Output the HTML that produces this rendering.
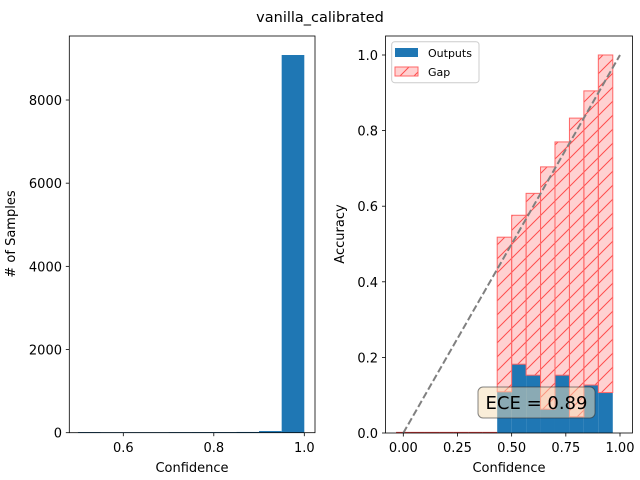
<!DOCTYPE html>
<html><head><meta charset="utf-8"><style>
body{margin:0;background:#fff}
svg{display:block;font-family:"DejaVu Sans","Liberation Sans",sans-serif}
</style></head><body>
<svg id="fig" width="640" height="480" viewBox="0 0 640 480">
<defs>
<pattern id="hatch" patternUnits="userSpaceOnUse" width="14" height="14">
<path d="M-3,17 L17,-3 M-3,3 L3,-3 M11,17 L17,11" stroke="#ff4d4d" stroke-width="1"/>
</pattern>
</defs>
<text x="320" y="22" font-size="14.5" text-anchor="middle">vanilla_calibrated</text>
<g id="left"></g>
<g id="right"></g>
</svg>
<script>
// Left histogram data
const histBinEdges = [0.5,0.55,0.6,0.65,0.7,0.75,0.8,0.85,0.9,0.95,1.0];
const histCounts = [15,12,12,12,14,15,15,18,40,9082];
const histXTicks = [0.6,0.8,1.0];
const histYTicks = [0,2000,4000,6000,8000];
// Right reliability data
const binCenters = [0,1,2,3,4,5,6,7,8,9,10,11,12,13,14].map(i=>i/15);
const accuracy = [0,0,0,0,0,0,0,0.109,0.182,0.153,0.063,0.153,0.043,0.127,0.107];
const confidence = [0,0,0,0,0,0,0,0.518,0.576,0.634,0.704,0.770,0.833,0.905,1.0];
const relXTicks = [0,0.25,0.5,0.75,1.0];
const relYTicks = [0,0.2,0.4,0.6,0.8,1.0];
const eceValue = 0.89;

const NS='http://www.w3.org/2000/svg';
function mk(parent,tag,attrs,text){const e=document.createElementNS(NS,tag);for(const k in attrs)e.setAttribute(k,attrs[k]);if(text!==undefined)e.textContent=text;parent.appendChild(e);return e;}

// Left axes
const L=document.getElementById('left');
const lx=v=>123.3+(v-0.6)*452.5;
const ly=v=>432.7-v*0.041587;
histCounts.forEach((c,i)=>{
  const x0=lx(histBinEdges[i]),x1=lx(histBinEdges[i+1]);
  const r=mk(L,'rect',{x:x0,y:ly(c),width:x1-x0,height:432.7-ly(c),fill:'#1f77b4'});
  
  
});
histXTicks.forEach(t=>{
  const x=lx(t);
  mk(L,'line',{x1:x,x2:x,y1:432.7,y2:436.2,stroke:'#000','stroke-width':0.8});
  const tx=mk(L,'text',{x:x,y:452,'font-size':13,'text-anchor':'middle'},t.toFixed(1));
  
  
});
histYTicks.forEach(t=>{
  const y=ly(t);
  mk(L,'line',{x1:65.8,x2:69.3,y1:y,y2:y,stroke:'#000','stroke-width':0.8});
  const tx=mk(L,'text',{x:62,y:y+5,'font-size':13,'text-anchor':'end'},String(t));
  
  
});
mk(L,'rect',{x:69.3,y:36,width:245.7,height:396.7,fill:'none',stroke:'#000','stroke-width':0.8});
let t1=mk(L,'text',{x:192,y:472,'font-size':13,'text-anchor':'middle'},'Confidence');

let t2=mk(L,'text',{x:15,y:234,'font-size':13,'text-anchor':'middle',transform:'rotate(-90 15 234)'},'# of Samples');


// Right axes
const R=document.getElementById('right');
const rx=v=>403.3+v*216.7;
const ry=v=>433-v*378;
const w=1/15;
binCenters.forEach((c,i)=>{
  const x0=rx(c-w/2),x1=rx(c+w/2);
  if(accuracy[i]>0){
    const b=mk(R,'rect',{x:x0,y:ry(accuracy[i]),width:x1-x0,height:433-ry(accuracy[i]),fill:'#1f77b4'});
    
  }
});
binCenters.forEach((c,i)=>{
  const x0=rx(c-w/2),x1=rx(c+w/2);
  const lo=Math.min(accuracy[i],confidence[i]),hi=Math.max(accuracy[i],confidence[i]);
  const g=mk(R,'g',{});
  
  if(hi-lo<=0){
    mk(g,'line',{x1:x0,x2:x1,y1:ry(lo)-0.5,y2:ry(lo)-0.5,stroke:'#d43a3a','stroke-width':1.2});
    return;
  }
  mk(g,'rect',{x:x0,y:ry(hi),width:x1-x0,height:ry(lo)-ry(hi),fill:'rgba(255,0,0,0.18)'});
  mk(g,'rect',{x:x0,y:ry(hi),width:x1-x0,height:ry(lo)-ry(hi),fill:'url(#hatch)',stroke:'#ff6666','stroke-width':1});
});
let dl=mk(R,'line',{x1:rx(0),y1:ry(0),x2:rx(1),y2:ry(1),stroke:'#808080','stroke-width':2,'stroke-dasharray':'7,3'});

relXTicks.forEach(t=>{
  const x=rx(t);
  mk(R,'line',{x1:x,x2:x,y1:433,y2:436.5,stroke:'#000','stroke-width':0.8});
  const tx=mk(R,'text',{x:x,y:452,'font-size':13,'text-anchor':'middle'},t.toFixed(2));
  
});
relYTicks.forEach(t=>{
  const y=ry(t);
  mk(R,'line',{x1:382,x2:385.5,y1:y,y2:y,stroke:'#000','stroke-width':0.8});
  const tx=mk(R,'text',{x:378,y:y+5,'font-size':13,'text-anchor':'end'},t.toFixed(1));
  
});
mk(R,'rect',{x:385.5,y:36,width:247,height:397,fill:'none',stroke:'#000','stroke-width':0.8});
// ECE box
const eb=mk(R,'g',{});

mk(eb,'rect',{x:478,y:387,width:117,height:31,rx:5,fill:'rgba(245,222,179,0.5)',stroke:'#333','stroke-width':1,'stroke-opacity':0.6});
mk(eb,'text',{x:536.5,y:409,'font-size':18,'text-anchor':'middle'},'ECE = '+eceValue.toFixed(2));
// Legend
const lg=mk(R,'g',{});

mk(lg,'rect',{x:391.7,y:41.7,width:87.3,height:41,rx:3,fill:'rgba(255,255,255,0.8)',stroke:'#ccc','stroke-width':1});
mk(lg,'rect',{x:395,y:48,width:23,height:9,fill:'#1f77b4'});
mk(lg,'text',{x:428,y:57,'font-size':11},'Outputs');
mk(lg,'rect',{x:395,y:67,width:23,height:9,fill:'rgba(255,0,0,0.18)'});
mk(lg,'rect',{x:395,y:67,width:23,height:9,fill:'url(#hatch)',stroke:'#ff6666','stroke-width':1});
mk(lg,'text',{x:428,y:76,'font-size':11},'Gap');
let t3=mk(R,'text',{x:509,y:472,'font-size':13,'text-anchor':'middle'},'Confidence');

let t4=mk(R,'text',{x:344,y:234,'font-size':13,'text-anchor':'middle',transform:'rotate(-90 344 234)'},'Accuracy');

</script>
</body></html>
